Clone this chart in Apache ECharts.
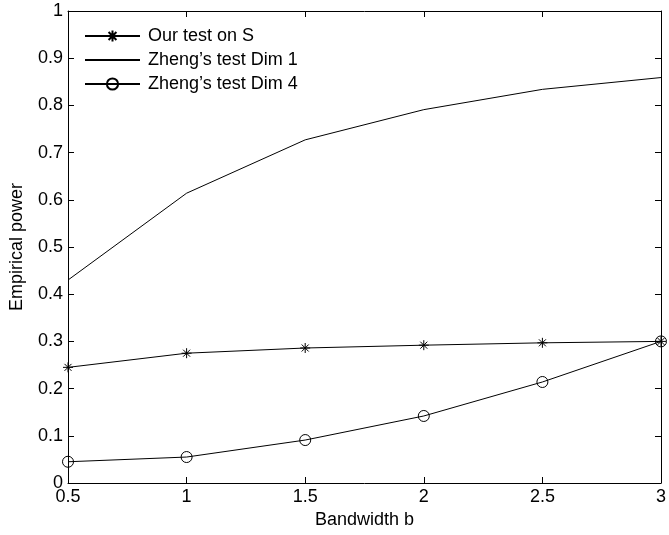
<!DOCTYPE html>
<html><head><meta charset="utf-8">
<script src="https://cdn.jsdelivr.net/npm/echarts@6/dist/echarts.min.js"></script>
<style>html,body{margin:0;padding:0;background:#fff}#c{width:669px;height:535px}</style>
</head><body><div id="c"></div>
<script>
var bandwidth = [0.5, 1, 1.5, 2, 2.5, 3];
var ourTest = [0.245, 0.275, 0.286, 0.292, 0.297, 0.300];
var zhengDim1 = [0.430, 0.614, 0.727, 0.791, 0.834, 0.859];
var zhengDim4 = [0.045, 0.055, 0.091, 0.142, 0.214, 0.300];
var xTicks = ['0.5', '1', '1.5', '2', '2.5', '3'];
var yTicks = ['0', '0.1', '0.2', '0.3', '0.4', '0.5', '0.6', '0.7', '0.8', '0.9', '1'];
var seriesNames = ['Our test on S', 'Zheng\u2019s test Dim 1', 'Zheng\u2019s test Dim 4'];

function pairs(v){ return bandwidth.map(function(x,i){ return [x, v[i]]; }); }
var font = 'Liberation Sans, Arial, sans-serif';
var star = 'path://M10 0 L10 20 M0 10 L20 10 M3 3 L17 17 M17 3 L3 17';

var chart = echarts.init(document.getElementById('c'));
var axisCommon = {
  min: 0, max: 1, interval: 0.1,
  axisLine: {show: true, onZero: false, lineStyle: {color: '#000', width: 1}},
  axisTick: {show: true, inside: true, length: 6, lineStyle: {color: '#000'}},
  splitLine: {show: false}
};
chart.setOption({
  animation: false,
  grid: {left: 64, right: 7, top: 11, bottom: 52, containLabel: false},
  legend: {
    left: 79, top: 22, orient: 'vertical', itemGap: 6, itemWidth: 55, itemHeight: 14,
    textStyle: {fontFamily: font, fontSize: 18, color: '#000', padding: [0, 0, 0, 3]},
    data: [
      {name: seriesNames[0]},
      {name: seriesNames[1], itemStyle: {color: 'rgba(0,0,0,0)', borderColor: 'rgba(0,0,0,0)', borderWidth: 0}},
      {name: seriesNames[2]}
    ]
  },
  xAxis: [
    {type: 'value', min: 0.5, max: 3, interval: 0.5, position: 'bottom',
     name: 'Bandwidth b', nameLocation: 'middle', nameGap: 24,
     nameTextStyle: {fontFamily: font, fontSize: 18, color: '#000'},
     axisLine: {show: true, onZero: false, lineStyle: {color: '#000'}},
     axisTick: {show: true, inside: true, length: 6, lineStyle: {color: '#000'}},
     axisLabel: {fontFamily: font, fontSize: 18, color: '#000', margin: 5,
       formatter: function(v){ return xTicks[Math.round((v-0.5)/0.5)]; }},
     splitLine: {show: false}},
    {type: 'value', min: 0.5, max: 3, interval: 0.5, position: 'top',
     axisLine: {show: true, onZero: false, lineStyle: {color: '#000'}},
     axisTick: {show: true, inside: true, length: 6, lineStyle: {color: '#000'}},
     axisLabel: {show: false}, splitLine: {show: false}}
  ],
  yAxis: [
    Object.assign({type: 'value', position: 'left',
     name: 'Empirical power', nameLocation: 'middle', nameGap: 42, nameRotate: 90,
     nameTextStyle: {fontFamily: font, fontSize: 18, color: '#000'},
     axisLabel: {fontFamily: font, fontSize: 18, color: '#000', margin: 5,
       formatter: function(v){ return yTicks[Math.round(v*10)]; }}}, axisCommon),
    Object.assign({type: 'value', position: 'right', axisLabel: {show: false}}, axisCommon)
  ],
  series: [
    {name: seriesNames[0], type: 'line', data: pairs(ourTest),
     symbol: star, symbolSize: 10, showAllSymbol: true,
     lineStyle: {color: '#000', width: 1},
     itemStyle: {color: '#000', borderColor: '#000', borderWidth: 1}},
    {name: seriesNames[1], type: 'line', data: pairs(zhengDim1),
     symbol: 'none', lineStyle: {color: '#000', width: 1}, itemStyle: {color: '#000'}},
    {name: seriesNames[2], type: 'line', data: pairs(zhengDim4),
     symbol: 'circle', symbolSize: 11, showAllSymbol: true,
     lineStyle: {color: '#000', width: 1},
     itemStyle: {color: 'rgba(0,0,0,0)', borderColor: '#000', borderWidth: 1}}
  ]
});
</script></body></html>
